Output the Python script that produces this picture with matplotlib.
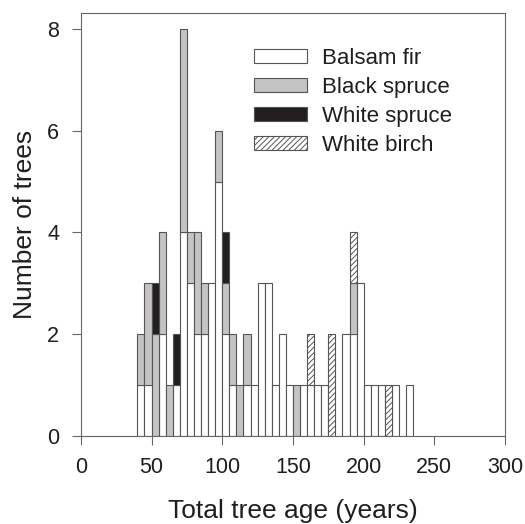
import numpy as np
import matplotlib
matplotlib.use('Agg')
from matplotlib import pyplot as plt

plt.rcParams['font.family'] = ['Liberation Sans', 'DejaVu Sans']
plt.rcParams['hatch.linewidth'] = 0.7
plt.rcParams['hatch.color'] = '#444444'

# left edges of 5-year age classes
age_bins = [40, 45, 50, 55, 60, 65, 70, 75, 80, 85, 90, 95, 100, 105, 110, 115,
            120, 125, 130, 135, 140, 145, 150, 155, 160, 165, 170, 175, 180, 185,
            190, 195, 200, 205, 210, 215, 220, 225, 230]
balsam_fir   = [1, 1, 0, 2, 0, 1, 4, 3, 2, 2, 3, 5, 2, 1, 0, 1,
                1, 3, 3, 1, 2, 1, 0, 1, 1, 1, 1, 0, 0, 2,
                2, 3, 1, 1, 1, 0, 1, 0, 1]
black_spruce = [1, 2, 2, 2, 1, 0, 4, 1, 2, 1, 0, 1, 1, 1, 1, 1,
                0, 0, 0, 0, 0, 0, 1, 0, 0, 0, 0, 0, 0, 0,
                1, 0, 0, 0, 0, 0, 0, 0, 0]
white_spruce = [0, 0, 1, 0, 0, 1, 0, 0, 0, 0, 0, 0, 1, 0, 0, 0,
                0, 0, 0, 0, 0, 0, 0, 0, 0, 0, 0, 0, 0, 0,
                0, 0, 0, 0, 0, 0, 0, 0, 0]
white_birch  = [0, 0, 0, 0, 0, 0, 0, 0, 0, 0, 0, 0, 0, 0, 0, 0,
                0, 0, 0, 0, 0, 0, 0, 0, 1, 0, 0, 2, 0, 0,
                1, 0, 0, 0, 0, 1, 0, 0, 0]

species = ['Balsam fir', 'Black spruce', 'White spruce', 'White birch']
counts = [balsam_fir, black_spruce, white_spruce, white_birch]
fills = ['white', '#c4c4c4', '#231f20', 'white']
hatches = [None, None, None, '//////']

fig = plt.figure(figsize=(5.25, 5.24), dpi=100)
ax = fig.add_axes([0.154, 0.168, 0.808, 0.808])

x = np.array(age_bins)
bottom = np.zeros(len(age_bins))
for name, c, fc, h in zip(species, counts, fills, hatches):
    c = np.array(c, dtype=float)
    mask = c > 0
    ax.bar(x[mask], c[mask], width=5, bottom=bottom[mask], align='edge',
           facecolor=fc, edgecolor='#555555', linewidth=0.8, hatch=h, label=name)
    bottom += c

ax.set_xlim(0, 300)
ax.set_ylim(0, 8.32)
ax.set_xticks([0, 50, 100, 150, 200, 250, 300])
ax.set_yticks([0, 2, 4, 6, 8])
for s in ax.spines.values():
    s.set_color('#666666')
    s.set_linewidth(0.8)
ax.tick_params(direction='out', length=6.5, width=0.8, color='#666666',
               labelsize=15.5, labelcolor='#1e1e1e', pad=9)
ax.set_xlabel('Total tree age (years)', fontsize=19, color='#1e1e1e', labelpad=15)
ax.set_ylabel('Number of trees', fontsize=19, color='#1e1e1e', labelpad=7)

ax.legend(loc='upper left', bbox_to_anchor=(0.408, 0.917), frameon=False,
          fontsize=16, handlelength=2.39, handleheight=0.6, handletextpad=0.66,
          labelspacing=0.36, borderpad=0, borderaxespad=0, labelcolor='#1e1e1e')

fig.savefig('out.png', dpi=100)
